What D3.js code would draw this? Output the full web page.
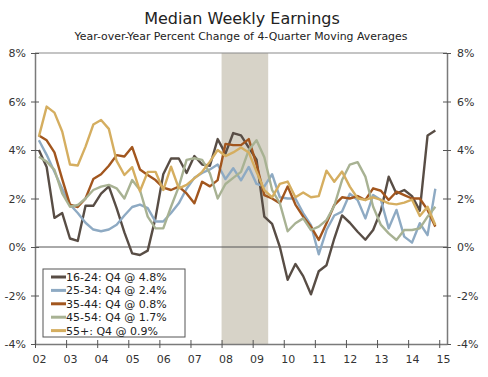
<!DOCTYPE html>
<html>
<head>
<meta charset="utf-8">
<script src="https://cdn.jsdelivr.net/npm/d3@7"></script>
<style>
  body { margin: 0; background: #fff; }
  text { font-family: "DejaVu Sans", Verdana, sans-serif; fill: #333; }
</style>
</head>
<body>
<div id="chart"></div>
<script>
const width = 488;
const height = 377;

// quarterly data, 2002 Q1 .. 2014 Q4
const startYear = 2002;
const yearTicks = d3.range(2002, 2016);
const yTicks = [-4, -2, 0, 2, 4, 6, 8];
const recession = [2008.0, 2009.5];

const seriesNames = ["16-24: Q4 @ 4.8%", "25-34: Q4 @ 2.4%", "35-44: Q4 @ 0.8%", "45-54: Q4 @ 1.7%", "55+: Q4 @ 0.9%"];
const seriesColors = ["#584d45", "#8eaac3", "#a2561e", "#a8b293", "#d5ae60"];

const age1624 = [4.0, 3.3, 1.2, 1.4, 0.35, 0.25, 1.7, 1.7, 2.2, 2.5, 1.6, 0.6,
  -0.26, -0.33, -0.15, 1.2, 3.0, 3.65, 3.65, 3.05, 3.75, 3.4, 3.35, 4.45,
  3.85, 4.7, 4.6, 4.1, 3.6, 1.25, 0.95, 0.0, -1.35, -0.7, -1.2, -1.95,
  -1.0, -0.75, 0.35, 1.3, 1.0, 0.63, 0.3, 0.7, 1.5, 2.9, 2.2, 2.35,
  2.1, 1.5, 4.6, 4.8];
const age2534 = [4.4, 3.8, 3.1, 2.4, 1.75, 1.4, 1.0, 0.72, 0.65, 0.72, 0.92, 1.3,
  1.65, 1.75, 1.6, 1.05, 1.05, 1.4, 1.8, 2.4, 2.85, 3.05, 3.2, 3.4,
  2.8, 3.25, 2.75, 3.3, 2.6, 2.5, 3.0, 2.05, 2.0, 2.0, 1.4, 0.9,
  -0.3, 0.7, 1.3, 1.46, 2.2, 1.94, 1.18, 2.14, 1.94, 0.77, 1.53, 0.43,
  0.18, 0.98, 0.49, 2.4];
const age3544 = [4.6, 4.4, 3.9, 2.8, 1.75, 1.65, 2.0, 2.8, 3.0, 3.35, 3.79, 3.73,
  4.12, 3.2, 2.97, 2.76, 2.45, 2.35, 2.49, 2.21, 1.8, 2.69, 2.5, 2.76,
  4.25, 4.2, 4.2, 4.45, 3.4, 2.14, 2.0, 1.8, 2.5, 1.75, 1.25, 0.84,
  0.29, 0.98, 1.73, 2.05, 2.0, 2.1, 1.94, 2.42, 2.32, 1.94, 2.28, 2.14,
  2.0, 2.0, 1.53, 0.84];
const age4554 = [3.72, 3.52, 3.18, 2.21, 1.66, 1.73, 2.0, 2.35, 2.49, 2.56, 2.42, 2.0,
  2.76, 2.35, 1.25, 0.77, 0.77, 1.66, 2.49, 3.59, 3.66, 3.59, 3.04, 2.0,
  2.6, 2.85, 3.1, 4.0, 4.4, 3.7, 2.35, 1.8, 0.65, 0.98, 1.18, 0.7,
  0.84, 1.11, 1.7, 2.76, 3.4, 3.5, 2.9, 1.66, 0.91, 0.56, 0.29, 0.7,
  0.7, 0.77, 1.25, 1.66];
const age55 = [4.55, 5.79, 5.54, 4.76, 3.4, 3.36, 4.14, 5.05, 5.24, 4.87, 3.55, 2.97,
  3.29, 2.3, 3.1, 3.1, 2.35, 3.31, 2.42, 2.56, 2.83, 3.1, 3.52, 4.0,
  3.75, 3.9, 4.1, 3.9, 3.1, 2.35, 2.05, 2.6, 2.7, 2.05, 2.25, 2.05,
  2.1, 3.15, 2.69, 3.11, 2.49, 2.01, 1.94, 2.05, 1.94, 1.8, 1.76, 1.83,
  1.95, 1.28, 1.66, 0.91];

const allSeries = [age1624, age2534, age3544, age4554, age55];

const margin = {top: 53, right: 41, bottom: 33, left: 35};

const x = d3.scaleLinear()
  .domain([2002, 2015.25])
  .range([margin.left, width - margin.right]);

const y = d3.scaleLinear()
  .domain([-4, 8])
  .range([height - margin.bottom, margin.top]);

// quarter midpoint on the time axis
const qTime = i => startYear + i / 4 + 0.125;

const svg = d3.select("#chart")
  .append("svg")
  .attr("width", width)
  .attr("height", height);

// title
svg.append("text")
  .attr("x", 242)
  .attr("y", 24)
  .attr("text-anchor", "middle")
  .style("font-size", "16px")
  .style("fill", "#222")
  .text("Median Weekly Earnings");

svg.append("text")
  .attr("x", 241)
  .attr("y", 40)
  .attr("text-anchor", "middle")
  .style("font-size", "10.9px")
  .style("fill", "#222")
  .text("Year-over-Year Percent Change of 4-Quarter Moving Averages");

// recession band
svg.append("rect")
  .attr("x", x(recession[0]))
  .attr("y", y(8))
  .attr("width", x(recession[1]) - x(recession[0]))
  .attr("height", y(-4) - y(8))
  .attr("fill", "#d7d3c8");

// top frame + zero line
svg.append("line")
  .attr("x1", x.range()[0]).attr("x2", x.range()[1])
  .attr("y1", y(8)).attr("y2", y(8))
  .attr("stroke", "#8a8a8a").attr("stroke-width", 1.2);

svg.append("line")
  .attr("x1", x.range()[0]).attr("x2", x.range()[1])
  .attr("y1", y(0)).attr("y2", y(0))
  .attr("stroke", "#555").attr("stroke-width", 1);

// lines
const line = d3.line()
  .x((d, i) => x(qTime(i)))
  .y(d => y(d));

svg.selectAll(".series")
  .data(allSeries)
  .enter().append("path")
  .attr("class", "series")
  .attr("d", line)
  .attr("fill", "none")
  .attr("stroke", (d, i) => seriesColors[i])
  .attr("stroke-width", 2.4)
  .attr("stroke-linejoin", "round");

// axes
const fmt = d => d + "%";

const leftAxis = svg.append("g")
  .attr("transform", `translate(${x.range()[0]},0)`)
  .call(d3.axisLeft(y).tickValues(yTicks).tickFormat(fmt).tickSize(4).tickPadding(5).tickSizeOuter(0));

const rightAxis = svg.append("g")
  .attr("transform", `translate(${x.range()[1]},0)`)
  .call(d3.axisRight(y).tickValues(yTicks).tickFormat(fmt).tickSize(4).tickPadding(6).tickSizeOuter(0));

const bottomAxis = svg.append("g")
  .attr("transform", `translate(0,${y(-4)})`)
  .call(d3.axisBottom(x).tickValues(yearTicks).tickFormat(d => String(d).slice(2)).tickSize(4).tickPadding(7).tickSizeOuter(0));

leftAxis.selectAll(".tick line").attr("x1", 4);
rightAxis.selectAll(".tick line").attr("x1", -4);
bottomAxis.selectAll(".tick line").attr("y1", -4);
bottomAxis.selectAll(".tick text").attr("dx", x(2002.125) - x(2002));

[leftAxis, rightAxis, bottomAxis].forEach(g => {
  g.select(".domain").attr("stroke", "#7a7a7a").attr("stroke-width", 1.5);
  g.selectAll(".tick line").attr("stroke", "#555");
  g.selectAll(".tick text").style("font-size", "11px").style("fill", "#333");
});

// legend
const legend = svg.append("g")
  .attr("transform", "translate(43,269)");

legend.append("rect")
  .attr("width", 142)
  .attr("height", 68)
  .attr("fill", "#fff")
  .attr("stroke", "#555")
  .attr("stroke-width", 1);

const rows = legend.selectAll(".row")
  .data(seriesNames)
  .enter().append("g")
  .attr("class", "row")
  .attr("transform", (d, i) => `translate(0,${8 + i * 13.4})`);

rows.append("line")
  .attr("x1", 8).attr("x2", 23)
  .attr("y1", 0).attr("y2", 0)
  .attr("stroke", (d, i) => seriesColors[i])
  .attr("stroke-width", 3);

rows.append("text")
  .attr("x", 23)
  .attr("y", 4)
  .style("font-size", "11px")
  .style("fill", "#222")
  .text(d => d);
</script>
</body>
</html>
